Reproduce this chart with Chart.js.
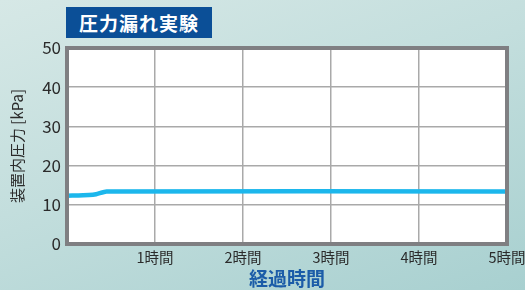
<!DOCTYPE html>
<html>
<head>
<meta charset="utf-8">
<script src="https://cdn.jsdelivr.net/npm/chart.js@4"></script>
<style>
  html, body { margin: 0; padding: 0; }
  body {
    width: 525px; height: 290px; overflow: hidden; position: relative;
    background: linear-gradient(160deg, #d6e8e6 0%, #c3dedd 45%, #a8d0d0 100%);
    font-family: 'Noto Sans CJK JP', 'Noto Sans', sans-serif;
  }
  #wrap { position: absolute; left: 0; top: 0; width: 525px; height: 290px; }
  .badge {
    position: absolute; left: 66px; top: 7px; width: 146px; height: 31px;
    background: #0b4f97; color: #fff; font-weight: 700; font-size: 19px;
    line-height: 31px; text-align: center; letter-spacing: 1px;
  }
</style>
</head>
<body>
<div id="wrap"><canvas id="c" width="525" height="290"></canvas></div>
<div class="badge">圧力漏れ実験</div>
<script>
// hours elapsed vs pressure inside the device (kPa)
const HOURS = [0, 0.25, 0.33, 0.45, 5];
const PRESSURE = [12.3, 12.5, 12.7, 13.4, 13.4];
const Y_TICKS = [0, 10, 20, 30, 40, 50];
const X_TICKS = [0, 1, 2, 3, 4, 5];

const FONT = "'Noto Sans CJK JP', 'Noto Sans', sans-serif";
const GRID = '#a9a9a9', FRAME = '#7f7f82', INK = '#2b2b2b';

// thick grey frame around the plot area
const framePlugin = {
  id: 'frame',
  afterDraw(chart) {
    const { ctx, chartArea: a } = chart;
    ctx.save();
    ctx.strokeStyle = FRAME; ctx.lineWidth = 4;
    ctx.strokeRect(a.left, a.top, a.right - a.left, a.bottom - a.top);
    ctx.restore();
  },
};
// white plot background
const bgPlugin = {
  id: 'plotBg',
  beforeDraw(chart) {
    const { ctx, chartArea: a } = chart;
    ctx.save(); ctx.fillStyle = '#fff';
    ctx.fillRect(a.left, a.top, a.right - a.left, a.bottom - a.top);
    ctx.restore();
  },
};

new Chart(document.getElementById('c'), {
  type: 'line',
  data: {
    datasets: [{
      data: HOURS.map((h, i) => ({ x: h, y: PRESSURE[i] })),
      borderColor: '#1cb7ec', borderWidth: 4.5, pointRadius: 0, tension: 0.2,
    }],
  },
  options: {
    responsive: false, animation: false,
    layout: { padding: { top: 48, right: 18, left: 8, bottom: 0 } },
    plugins: { legend: { display: false }, tooltip: { enabled: false } },
    scales: {
      x: {
        type: 'linear', min: 0, max: 5,
        afterBuildTicks: s => { s.ticks = X_TICKS.map(v => ({ value: v })); },
        afterFit: s => { s.height = 46; s.paddingLeft = 0; s.paddingRight = 0; },
        grid: { color: GRID, lineWidth: 1.5, drawTicks: false },
        border: { display: false },
        ticks: { color: INK, font: { family: FONT, size: 14.5 }, padding: 5,
                 callback: v => v === 0 ? '' : v + '時間' },
        title: { display: true, text: '経過時間', color: '#1b5ca8',
                 font: { family: FONT, size: 19, weight: '700' }, padding: { top: 0, bottom: 0 } },
      },
      y: {
        min: 0, max: 50,
        afterBuildTicks: s => { s.ticks = Y_TICKS.map(v => ({ value: v })); },
        afterFit: s => { s.width = 59; },
        grid: { color: GRID, lineWidth: 1.5, drawTicks: false },
        border: { display: false },
        ticks: { color: INK, font: { family: FONT, size: 17 }, padding: 6 },
        title: { display: true, text: '装置内圧力 [kPa]', color: INK,
                 font: { family: FONT, size: 15 }, padding: { top: 0, bottom: 2 } },
      },
    },
  },
  plugins: [bgPlugin, framePlugin],
});
</script>
</body>
</html>
